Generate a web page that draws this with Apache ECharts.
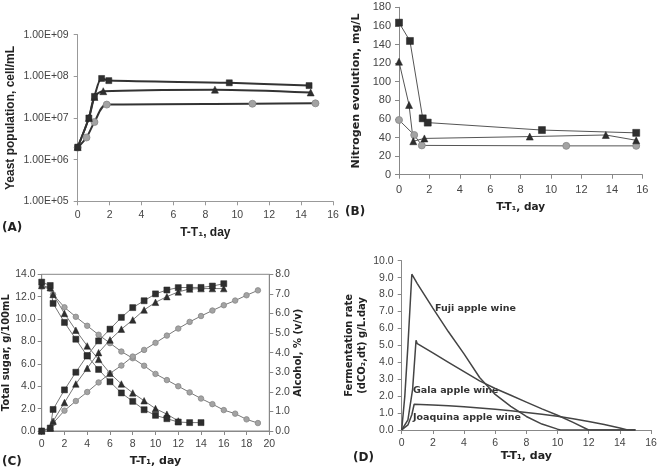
<!DOCTYPE html>
<html>
<head>
<meta charset="utf-8">
<script src="https://cdn.jsdelivr.net/npm/echarts@6/dist/echarts.min.js"></script>
<style>
  html, body { margin: 0; padding: 0; background: #fff; }
  #main { width: 661px; height: 468px; }
</style>
</head>
<body>
<div id="main"></div>
<script>
// (A) yeast population, cell/mL (log scale)
const aSquareX = [0, 0.7, 1.05, 1.5, 1.95, 9.5, 14.5];
const aSquareY = [2e6, 1e7, 3.3e7, 8.9e7, 7.9e7, 7e7, 6e7];
const aTriX = [0, 0.7, 1.05, 1.6, 8.6, 14.6];
const aTriY = [2e6, 1e7, 3.2e7, 4.4e7, 4.8e7, 4.1e7];
const aCircX = [0, 0.55, 1.05, 1.82, 10.95, 14.9];
const aCircY = [1.95e6, 3.4e6, 8e6, 2.1e7, 2.2e7, 2.25e7];

// (B) nitrogen evolution, mg/L
const bSquareX = [0, 0.72, 1.56, 1.89, 9.4, 15.6];
const bSquareY = [163.5, 143.8, 60.6, 56, 48, 45];
const bTriX = [0, 0.66, 0.94, 1.67, 8.6, 13.6, 15.6];
const bTriY = [121.5, 75, 36, 39, 41, 42.7, 37];
const bCircX = [0, 1.0, 1.5, 11, 15.6];
const bCircY = [58.8, 42.7, 31.5, 31, 31];

// (C) total sugar (left axis) and alcohol (right axis)
const cDays = [0, 0.75, 1, 2, 3, 4, 5, 6, 7, 8, 9, 10, 11, 12, 13, 14, 15, 16, 17, 18, 19];
const cSugarSquare = [13.3, 13.0, 11.4, 9.7, 8.2, 6.7, 5.5, 4.4, 3.4, 2.65, 1.9, 1.4, 1.1, 0.8, 0.75, 0.75];
const cSugarTri = [13.0, 12.8, 12.2, 10.5, 9.0, 7.6, 6.4, 5.15, 4.2, 3.4, 2.7, 2.0, 1.5, 0.9];
const cSugarCirc = [12.9, 12.7, 12.2, 11.05, 10.2, 9.4, 8.6, 7.85, 7.1, 6.5, 5.83, 5.1, 4.55, 4.0, 3.45, 2.9, 2.4, 1.87, 1.55, 1.04, 0.71];
const cAlcSquare = [0, 0.15, 1.1, 2.1, 3.0, 3.85, 4.6, 5.2, 5.8, 6.3, 6.65, 7.0, 7.2, 7.32, 7.33, 7.33, 7.4, 7.52];
const cAlcTri = [0, 0.15, 0.5, 1.45, 2.4, 3.2, 4.0, 4.65, 5.2, 5.67, 6.18, 6.57, 6.86, 7.1, 7.25, 7.27, 7.27, 7.27];
const cAlcCirc = [0, 0.12, 0.4, 1.04, 1.53, 1.99, 2.48, 2.94, 3.34, 3.8, 4.14, 4.5, 4.87, 5.23, 5.57, 5.87, 6.15, 6.42, 6.66, 6.93, 7.18];

// (D) fermentation rate curves
const dFujiX = [0, 0.2, 0.4, 0.65, 1, 2, 3, 4, 5, 6, 7, 8, 9, 10, 10.2, 15];
const dFujiY = [0, 2, 5, 9.2, 8.65, 7.2, 5.8, 4.5, 3.1, 2.1, 1.4, 0.8, 0.35, 0.05, 0, 0];
const dGalaX = [0, 0.4, 0.7, 0.92, 1.0, 2, 3, 4, 5, 6, 7, 8, 9, 10, 11, 12, 15];
const dGalaY = [0, 0.6, 2.4, 5.3, 5.1, 4.55, 4.0, 3.45, 2.9, 2.45, 2.05, 1.65, 1.25, 0.87, 0.45, 0, 0];
const dJoaX = [0, 0.4, 0.65, 0.8, 2, 3, 4, 5, 6, 7, 8, 9, 10, 11, 12, 13, 14, 14.5, 15];
const dJoaY = [0, 0.3, 0.9, 1.52, 1.48, 1.43, 1.37, 1.3, 1.22, 1.13, 1.03, 0.93, 0.81, 0.66, 0.5, 0.32, 0.12, 0, 0];

const tickFont = 'Liberation Sans, Arial, sans-serif';
const titleFont = 'DejaVu Sans, Verdana, sans-serif';

function pairs(xs, ys) {
  return ys.map((y, i) => [xs[i], y]);
}

function axisBase(gridIndex, color) {
  return {
    gridIndex: gridIndex,
    axisLine: { show: true, lineStyle: { color: color, width: 1 } },
    axisTick: { show: true, length: 4, lineStyle: { color: color } },
    splitLine: { show: false },
    axisLabel: { color: '#444', fontFamily: tickFont, fontSize: 10.5, margin: 8 },
    nameLocation: 'middle',
    nameTextStyle: { color: '#222', fontFamily: titleFont, fontWeight: 'bold', fontSize: 10 },
  };
}

function lineSeries(x, y, data, symbol, size, opts) {
  const dark = symbol !== 'circle';
  return Object.assign({
    type: 'line',
    xAxisIndex: x,
    yAxisIndex: y,
    data: data,
    symbol: symbol,
    symbolSize: size,
    showSymbol: true,
    animation: false,
    itemStyle: dark
      ? { color: '#2e2e2e', borderColor: '#222', borderWidth: 0.5 }
      : { color: '#a3a3a3', borderColor: '#888', borderWidth: 0.8 },
  }, opts);
}

const dom = document.getElementById('main');
const myChart = echarts.init(dom, null, { renderer: 'canvas' });

const lineA = { smooth: 0.3, lineStyle: { color: '#333', width: 2 } };
const lineB = { lineStyle: { color: '#555', width: 1 } };
const lineC = { lineStyle: { color: '#777', width: 1 } };
const lineD = { showSymbol: false, symbol: 'none', lineStyle: { color: '#444', width: 1.5 } };

const option = {
  backgroundColor: '#fff',
  animation: false,
  grid: [
    { left: 77.7, top: 34.7, width: 255.3, height: 166.6 },
    { left: 399, top: 7.3, width: 243.3, height: 167.4 },
    { left: 41.7, top: 274.3, width: 227.6, height: 157, show: true, borderColor: '#888', borderWidth: 1, backgroundColor: 'transparent' },
    { left: 401.7, top: 260.7, width: 249.3, height: 169.3 },
  ],
  xAxis: [
    Object.assign(axisBase(0, '#999'), {
      type: 'value', min: 0, max: 16, interval: 2,
      name: 'T-T₁, day', nameGap: 25,
      nameTextStyle: { color: '#222', fontFamily: tickFont, fontWeight: 'bold', fontSize: 12 },
    }),
    Object.assign(axisBase(1, '#888'), {
      type: 'value', min: 0, max: 16, interval: 2,
      name: 'T-T₁, day', nameGap: 27,
      axisLabel: { color: '#444', fontFamily: tickFont, fontSize: 11, margin: 10 },
      nameTextStyle: { color: '#222', fontFamily: titleFont, fontWeight: 'bold', fontSize: 10.5 },
    }),
    Object.assign(axisBase(2, '#888'), {
      type: 'value', min: 0, max: 20, interval: 2,
      name: 'T-T₁, day', nameGap: 25,
      nameTextStyle: { color: '#222', fontFamily: titleFont, fontWeight: 'bold', fontSize: 11 },
    }),
    Object.assign(axisBase(3, '#888'), {
      type: 'value', min: 0, max: 16, interval: 2,
      name: 'T-T₁, day', nameGap: 21,
      nameTextStyle: { color: '#222', fontFamily: titleFont, fontWeight: 'bold', fontSize: 11 },
    }),
  ],
  yAxis: [
    Object.assign(axisBase(0, '#999'), {
      type: 'log', logBase: 10, min: 1e5, max: 1e9,
      name: 'Yeast population, cell/mL', nameGap: 61,
      axisLabel: {
        color: '#444', fontFamily: tickFont, fontSize: 10.5, margin: 9,
        formatter: function (v) {
          const e = Math.round(Math.log10(v));
          return '1.00E+' + (e < 10 ? '0' + e : e);
        },
      },
      nameTextStyle: { color: '#222', fontFamily: tickFont, fontWeight: 'bold', fontSize: 12 },
    }),
    Object.assign(axisBase(1, '#888'), {
      type: 'value', min: 0, max: 180, interval: 20,
      name: 'Nitrogen evolution, mg/L', nameGap: 37,
      axisLabel: { color: '#444', fontFamily: tickFont, fontSize: 11, margin: 8 },
      nameTextStyle: { color: '#222', fontFamily: titleFont, fontWeight: 'bold', fontSize: 11 },
    }),
    Object.assign(axisBase(2, '#888'), {
      type: 'value', min: 0, max: 14, interval: 2,
      name: 'Total sugar, g/100mL', nameGap: 28,
      axisLabel: { color: '#444', fontFamily: tickFont, fontSize: 10.5, margin: 6, formatter: v => v.toFixed(1) },
    }),
    Object.assign(axisBase(2, '#888'), {
      type: 'value', min: 0, max: 8, interval: 1, position: 'right',
      name: 'Alcohol, % (v/v)', nameGap: 23, nameRotate: 90,
      axisLabel: { color: '#444', fontFamily: tickFont, fontSize: 10.5, margin: 6, formatter: v => v.toFixed(1) },
    }),
    Object.assign(axisBase(3, '#888'), {
      type: 'value', min: 0, max: 10, interval: 1,
      name: 'Fermentation rate\n(dCO₂,dt) g/L.day', nameGap: 27,
      axisLabel: { color: '#444', fontFamily: tickFont, fontSize: 10.5, margin: 8, formatter: v => v.toFixed(1) },
      nameTextStyle: { color: '#222', fontFamily: titleFont, fontWeight: 'bold', fontSize: 10, lineHeight: 13 },
    }),
  ],
  graphic: [
    { type: 'text', left: 2, top: 222, style: { text: '(A)', font: 'bold 12px DejaVu Sans', fill: '#222' } },
    { type: 'text', left: 345, top: 206, style: { text: '(B)', font: 'bold 12px DejaVu Sans', fill: '#222' } },
    { type: 'text', left: 2, top: 456, style: { text: '(C)', font: 'bold 12px DejaVu Sans', fill: '#222' } },
    { type: 'text', left: 353, top: 452, style: { text: '(D)', font: 'bold 12px DejaVu Sans', fill: '#222' } },
    { type: 'text', left: 435, top: 304, style: { text: 'Fuji apple wine', font: 'bold 9.5px DejaVu Sans', fill: '#333' } },
    { type: 'text', left: 413, top: 386, style: { text: 'Gala apple wine', font: 'bold 9.5px DejaVu Sans', fill: '#333' } },
    { type: 'text', left: 413, top: 413, style: { text: 'Joaquina apple wine', font: 'bold 9.5px DejaVu Sans', fill: '#333' } },
  ],
  series: [
    lineSeries(0, 0, pairs(aCircX, aCircY), 'circle', 7, lineA),
    lineSeries(0, 0, pairs(aTriX, aTriY), 'triangle', 7, lineA),
    lineSeries(0, 0, pairs(aSquareX, aSquareY), 'rect', 6, lineA),

    lineSeries(1, 1, pairs(bCircX, bCircY), 'circle', 7, lineB),
    lineSeries(1, 1, pairs(bTriX, bTriY), 'triangle', 7, lineB),
    lineSeries(1, 1, pairs(bSquareX, bSquareY), 'rect', 7, lineB),

    lineSeries(2, 2, pairs(cDays, cSugarCirc), 'circle', 5.5, lineC),
    lineSeries(2, 3, pairs(cDays, cAlcCirc), 'circle', 5.5, lineC),
    lineSeries(2, 2, pairs(cDays, cSugarTri), 'triangle', 6.5, lineC),
    lineSeries(2, 3, pairs(cDays, cAlcTri), 'triangle', 6.5, lineC),
    lineSeries(2, 2, pairs(cDays, cSugarSquare), 'rect', 6, lineC),
    lineSeries(2, 3, pairs(cDays, cAlcSquare), 'rect', 6, lineC),

    lineSeries(3, 4, pairs(dFujiX, dFujiY), 'none', 0, lineD),
    lineSeries(3, 4, pairs(dGalaX, dGalaY), 'none', 0, lineD),
    lineSeries(3, 4, pairs(dJoaX, dJoaY), 'none', 0, lineD),
  ],
};

myChart.setOption(option);
</script>
</body>
</html>
